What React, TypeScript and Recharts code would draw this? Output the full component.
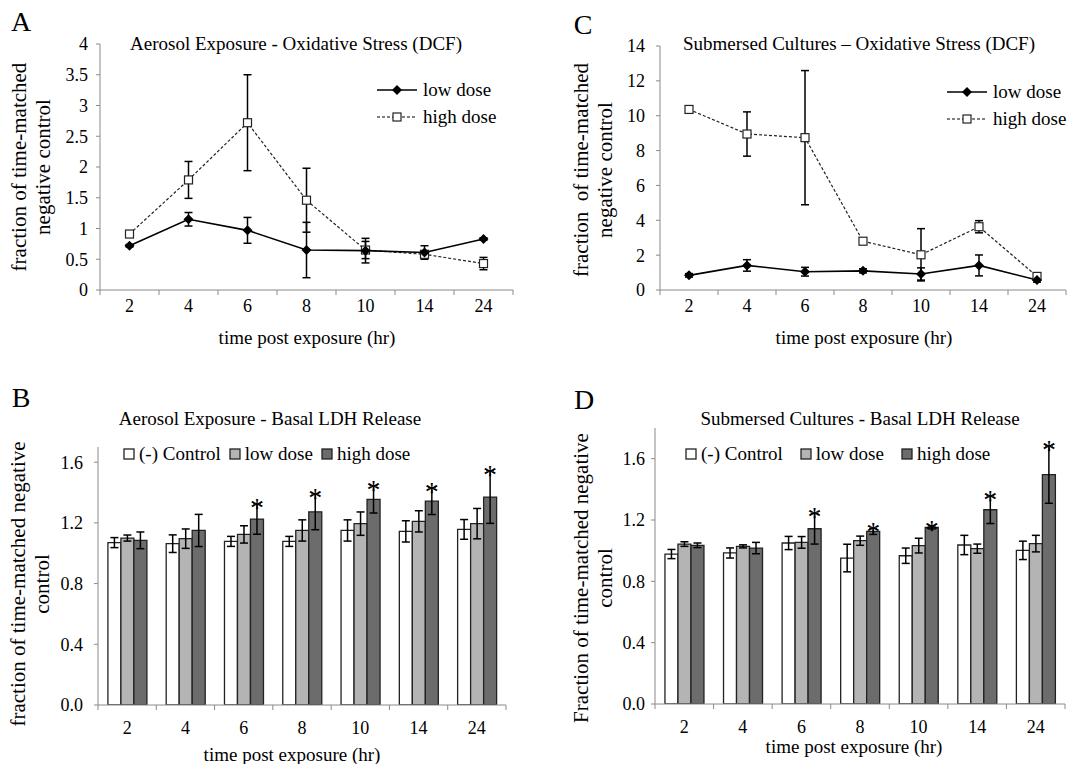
import React from "react";
import {
  ComposedChart,
  BarChart,
  Bar,
  Line,
  XAxis,
  YAxis,
  ErrorBar,
  Legend,
  LabelList,
} from "recharts";

const times = ["2", "4", "6", "8", "10", "14", "24"];

// A - aerosol DCF
const aLow = [0.72, 1.15, 0.97, 0.65, 0.64, 0.61, 0.83];
const aLowErr = [0.02, 0.11, 0.21, 0.45, 0.2, 0.11, 0.02];
const aHigh = [0.91, 1.79, 2.72, 1.46, 0.65, 0.58, 0.43];
const aHighErr = [0.03, 0.3, 0.78, 0.52, 0.14, 0.04, 0.1];
const aTicks = [0, 0.5, 1, 1.5, 2, 2.5, 3, 3.5, 4];

// C - submersed DCF
const cLow = [0.84, 1.41, 1.05, 1.1, 0.92, 1.41, 0.57];
const cLowErr = [0.1, 0.33, 0.25, 0.12, 0.35, 0.6, 0.12];
const cHigh = [10.36, 8.95, 8.74, 2.8, 2.02, 3.63, 0.78];
const cHighErr = [0.1, 1.27, 3.85, 0.15, 1.5, 0.35, 0.1];
const cTicks = [0, 2, 4, 6, 8, 10, 12, 14];

// B - aerosol LDH
const bCtrl = [1.07, 1.063, 1.078, 1.078, 1.15, 1.144, 1.157];
const bCtrlErr = [0.033, 0.058, 0.033, 0.033, 0.07, 0.07, 0.065];
const bLow = [1.1, 1.096, 1.124, 1.15, 1.195, 1.21, 1.195];
const bLowErr = [0.02, 0.064, 0.057, 0.07, 0.077, 0.07, 0.1];
const bHigh = [1.085, 1.15, 1.225, 1.273, 1.355, 1.343, 1.37];
const bHighErr = [0.055, 0.106, 0.1, 0.118, 0.09, 0.088, 0.173];
const bSig = [false, false, true, true, true, true, true];

// D - submersed LDH
const dCtrl = [0.978, 0.985, 1.05, 0.952, 0.967, 1.037, 1.002];
const dCtrlErr = [0.03, 0.033, 0.043, 0.09, 0.05, 0.063, 0.06];
const dLow = [1.043, 1.028, 1.054, 1.065, 1.033, 1.013, 1.046];
const dLowErr = [0.015, 0.01, 0.038, 0.03, 0.048, 0.03, 0.054];
const dHigh = [1.035, 1.017, 1.143, 1.126, 1.152, 1.267, 1.496];
const dHighErr = [0.015, 0.037, 0.1, 0.02, 0.01, 0.09, 0.187];
const dSig = [false, false, true, true, true, true, true];
const ldhTicks = [0, 0.4, 0.8, 1.2, 1.6];

const lineData = (low: number[], lowErr: number[], high: number[], highErr: number[]) =>
  times.map((t, i) => ({ t, low: low[i], lowErr: lowErr[i], high: high[i], highErr: highErr[i] }));

const barData = (
  ctrl: number[], ctrlErr: number[], low: number[], lowErr: number[],
  high: number[], highErr: number[], sig: boolean[]
) =>
  times.map((t, i) => ({
    t, ctrl: ctrl[i], ctrlErr: ctrlErr[i], low: low[i], lowErr: lowErr[i],
    high: high[i], highErr: highErr[i], sig: sig[i],
  }));

const FONT = "Liberation Serif, serif";
const AXIS = "#8a8a8a";
const LIGHT = "#b4b4b4";
const DARK = "#6c6c6c";

// category tick: label at band centre, tick marks on band edges
const catTick = (band: number, labelDy: number) => (props: any) => {
  const { x, y, payload, index } = props;
  return (
    <g>
      <line x1={x - band / 2} x2={x - band / 2} y1={y} y2={y + 5} stroke={AXIS} />
      {index === times.length - 1 && (
        <line x1={x + band / 2} x2={x + band / 2} y1={y} y2={y + 5} stroke={AXIS} />
      )}
      <text x={x} y={y + labelDy} textAnchor="middle" fontSize={18} fontFamily={FONT} fill="#000">
        {payload.value}
      </text>
    </g>
  );
};

const Diamond = (p: any) =>
  p.cx == null ? null : (
    <polygon
      key={`d${p.index}`}
      points={`${p.cx},${p.cy - 5} ${p.cx + 5},${p.cy} ${p.cx},${p.cy + 5} ${p.cx - 5},${p.cy}`}
      fill="#000"
    />
  );

const OpenSquare = (p: any) =>
  p.cx == null ? null : (
    <rect key={`s${p.index}`} x={p.cx - 4} y={p.cy - 4} width={8} height={8} fill="#fff" stroke="#222" strokeWidth={1.2} />
  );

const LineLegend = () => (
  <div style={{ fontFamily: FONT, fontSize: 19, lineHeight: "27px", color: "#000" }}>
    <div style={{ display: "flex", alignItems: "center" }}>
      <svg width={42} height={12} style={{ marginRight: 4 }}>
        <line x1={0} x2={40} y1={6} y2={6} stroke="#000" strokeWidth={1.5} />
        <polygon points="20,1 25,6 20,11 15,6" fill="#000" />
      </svg>
      low dose
    </div>
    <div style={{ display: "flex", alignItems: "center" }}>
      <svg width={42} height={12} style={{ marginRight: 4 }}>
        <line x1={0} x2={40} y1={6} y2={6} stroke="#000" strokeWidth={1.2} strokeDasharray="3 2" />
        <rect x={16} y={2} width={8} height={8} fill="#fff" stroke="#222" strokeWidth={1.2} />
      </svg>
      high dose
    </div>
  </div>
);

const BarLegend = ({ gap }: { gap: number }) => {
  const items = [
    { name: "(-) Control", fill: "#fff" },
    { name: "low dose", fill: LIGHT },
    { name: "high dose", fill: DARK },
  ];
  return (
    <div style={{ display: "flex", fontFamily: FONT, fontSize: 19, color: "#000", whiteSpace: "nowrap" }}>
      {items.map((it) => (
        <div key={it.name} style={{ display: "flex", alignItems: "center", marginRight: gap }}>
          <svg width={13} height={12} style={{ marginRight: 3 }}>
            <rect x={1} y={1} width={10} height={10} fill={it.fill} stroke="#222" strokeWidth={1.3} />
          </svg>
          {it.name}
        </div>
      ))}
    </div>
  );
};

const starLabel = (rows: any[]) => (props: any) => {
  const { x, y, width, height, value, index } = props;
  const row = rows[index];
  if (!row || !row.sig || !value) return null;
  const errPx = (row.highErr * height) / value;
  return (
    <text key={`st${index}`} x={x + width / 2} y={y - errPx + 13} textAnchor="middle" fontSize={28} fontFamily={FONT} fill="#000">
      *
    </text>
  );
};

const yTick = { fill: "#000", fontSize: 18, fontFamily: FONT };

type LineProps = {
  left: number; top: number; width: number; height: number;
  margin: { top: number; right: number; bottom: number; left: number };
  data: any[]; ticks: number[]; max: number; legendPos: { left: number; top: number };
  labelDy: number; tickMargin: number;
};

const LinePanel = ({ left, top, width, height, margin, data, ticks, max, legendPos, labelDy, tickMargin }: LineProps) => {
  const band = (width - margin.left - margin.right - 50) / times.length;
  return (
    <div style={{ position: "absolute", left, top }}>
      <ComposedChart width={width} height={height} data={data} margin={margin}>
        <XAxis
          dataKey="t"
          scale="band"
          stroke={AXIS}
          tickSize={0}
          tickMargin={0}
          tickLine={false}
          interval={0}
          height={30}
          tick={catTick(band, labelDy)}
        />
        <YAxis
          domain={[0, max]}
          ticks={ticks}
          width={50}
          stroke={AXIS}
          tickSize={4}
          tickMargin={tickMargin}
          tick={yTick}
          allowDataOverflow
        />
        <Legend
          layout="horizontal"
          verticalAlign="middle"
          align="center"
          wrapperStyle={{ left: legendPos.left, top: legendPos.top, width: "auto" }}
          content={() => <LineLegend />}
        />
        <Line
          dataKey="high"
          stroke="#222"
          strokeWidth={1.2}
          strokeDasharray="3 2"
          dot={OpenSquare}
          activeDot={false}
          isAnimationActive={false}
        >
          <ErrorBar dataKey="highErr" width={4} stroke="#000" strokeWidth={1.5} direction="y" isAnimationActive={false} />
        </Line>
        <Line
          dataKey="low"
          stroke="#000"
          strokeWidth={1.6}
          dot={Diamond}
          activeDot={false}
          isAnimationActive={false}
        >
          <ErrorBar dataKey="lowErr" width={4} stroke="#000" strokeWidth={1.5} direction="y" isAnimationActive={false} />
        </Line>
      </ComposedChart>
    </div>
  );
};

type BarProps = {
  left: number; top: number; width: number; height: number;
  margin: { top: number; right: number; bottom: number; left: number };
  data: any[]; max: number; legendPos: { left: number; top: number }; legendGap: number;
  labelDy: number; tickMargin: number;
};

const BarPanel = ({ left, top, width, height, margin, data, max, legendPos, legendGap, labelDy, tickMargin }: BarProps) => {
  const band = (width - margin.left - margin.right - 50) / times.length;
  return (
    <div style={{ position: "absolute", left, top }}>
      <BarChart width={width} height={height} data={data} margin={margin} barGap={0} barCategoryGap="17%">
        <XAxis
          dataKey="t"
          stroke={AXIS}
          tickSize={0}
          tickMargin={0}
          tickLine={false}
          interval={0}
          height={30}
          tick={catTick(band, labelDy)}
        />
        <YAxis
          domain={[0, max]}
          ticks={ldhTicks}
          width={50}
          stroke={AXIS}
          tickSize={4}
          tickMargin={tickMargin}
          tick={yTick}
          tickFormatter={(v: number) => v.toFixed(1)}
          allowDataOverflow
        />
        <Legend
          layout="horizontal"
          verticalAlign="middle"
          align="center"
          wrapperStyle={{ left: legendPos.left, top: legendPos.top, width: "auto" }}
          content={() => <BarLegend gap={legendGap} />}
        />
        <Bar dataKey="ctrl" fill="#fff" stroke="#222" strokeWidth={1.3} isAnimationActive={false}>
          <ErrorBar dataKey="ctrlErr" width={4} stroke="#000" strokeWidth={1.5} isAnimationActive={false} />
        </Bar>
        <Bar dataKey="low" fill={LIGHT} stroke="#222" strokeWidth={1.3} isAnimationActive={false}>
          <ErrorBar dataKey="lowErr" width={4} stroke="#000" strokeWidth={1.5} isAnimationActive={false} />
        </Bar>
        <Bar dataKey="high" fill={DARK} stroke="#222" strokeWidth={1.3} isAnimationActive={false}>
          <ErrorBar dataKey="highErr" width={4} stroke="#000" strokeWidth={1.5} isAnimationActive={false} />
          <LabelList dataKey="high" content={starLabel(data)} />
        </Bar>
      </BarChart>
    </div>
  );
};

const txt = (s: React.CSSProperties): React.CSSProperties => ({
  position: "absolute",
  fontFamily: FONT,
  color: "#000",
  whiteSpace: "nowrap",
  transform: "translate(-50%, -50%)",
  ...s,
});

const YLabel = ({ x, y, lines }: { x: number; y: number; lines: string[] }) => (
  <div
    style={txt({
      left: x,
      top: y,
      fontSize: 21,
      lineHeight: "24px",
      textAlign: "center",
      transform: "translate(-50%, -50%) rotate(-90deg)",
    })}
  >
    {lines.map((l) => (
      <div key={l} style={{ whiteSpace: "pre" }}>{l}</div>
    ))}
  </div>
);

export default function App() {
  const dataA = lineData(aLow, aLowErr, aHigh, aHighErr);
  const dataC = lineData(cLow, cLowErr, cHigh, cHighErr);
  const dataB = barData(bCtrl, bCtrlErr, bLow, bLowErr, bHigh, bHighErr, bSig);
  const dataD = barData(dCtrl, dCtrlErr, dLow, dLowErr, dHigh, dHighErr, dSig);

  return (
    <div style={{ position: "absolute", left: 0, top: 0, width: 1086, height: 764, background: "#fff", overflow: "hidden" }}>
      <LinePanel
        left={0} top={0} width={543} height={330}
        margin={{ top: 44, right: 30, bottom: 10, left: 50 }}
        data={dataA} ticks={aTicks} max={4}
        legendPos={{ left: 377, top: 76 }} labelDy={22} tickMargin={8}
      />
      <LinePanel
        left={543} top={0} width={543} height={330}
        margin={{ top: 46, right: 20, bottom: 10, left: 67 }}
        data={dataC} ticks={cTicks} max={14}
        legendPos={{ left: 404, top: 78 }} labelDy={22} tickMargin={11}
      />
      <BarPanel
        left={0} top={380} width={543} height={384}
        margin={{ top: 67, right: 37, bottom: 29, left: 48 }}
        data={dataB} max={1.7}
        legendPos={{ left: 123, top: 63 }} legendGap={8} labelDy={29} tickMargin={11}
      />
      <BarPanel
        left={543} top={380} width={543} height={384}
        margin={{ top: 48, right: 21, bottom: 30, left: 62 }}
        data={dataD} max={1.8}
        legendPos={{ left: 142, top: 63 }} legendGap={17} labelDy={29} tickMargin={6}
      />

      <div style={txt({ left: 21, top: 22, fontSize: 28 })}>A</div>
      <div style={txt({ left: 583, top: 25, fontSize: 28 })}>C</div>
      <div style={txt({ left: 21, top: 398, fontSize: 28 })}>B</div>
      <div style={txt({ left: 584, top: 400, fontSize: 28 })}>D</div>

      <div style={txt({ left: 296, top: 44, fontSize: 19 })}>Aerosol Exposure - Oxidative Stress (DCF)</div>
      <div style={txt({ left: 859, top: 44, fontSize: 19 })}>Submersed Cultures – Oxidative Stress (DCF)</div>
      <div style={txt({ left: 270, top: 419, fontSize: 19 })}>Aerosol Exposure - Basal LDH Release</div>
      <div style={txt({ left: 860, top: 419, fontSize: 19 })}>Submersed Cultures - Basal LDH Release</div>

      <div style={txt({ left: 307, top: 338, fontSize: 19 })}>time post exposure (hr)</div>
      <div style={txt({ left: 864, top: 338, fontSize: 19 })}>time post exposure (hr)</div>
      <div style={txt({ left: 292, top: 755, fontSize: 19 })}>time post exposure (hr)</div>
      <div style={txt({ left: 854, top: 747, fontSize: 19 })}>time post exposure (hr)</div>

      <YLabel x={31} y={167} lines={["fraction of time-matched", "negative control"]} />
      <YLabel x={593} y={170} lines={["fraction  of time-matched", "negative control"]} />
      <YLabel x={30} y={584} lines={["fraction of time-matched negative", "control"]} />
      <YLabel x={593} y={578} lines={["Fraction of time-matched negative", "control"]} />
    </div>
  );
}
